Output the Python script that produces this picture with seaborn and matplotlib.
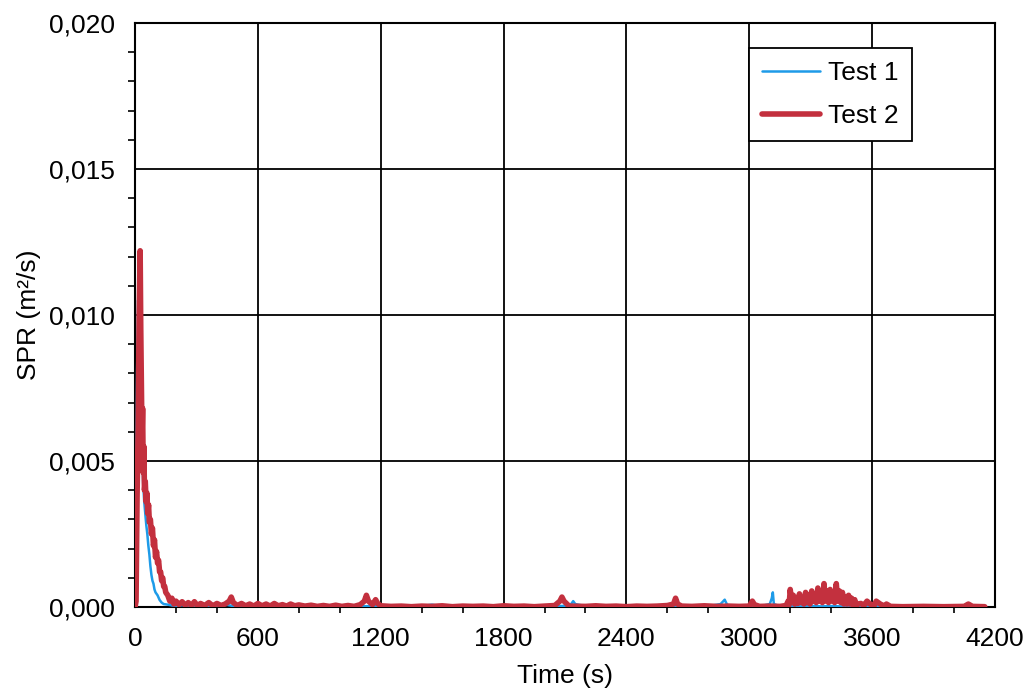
import numpy as np
import pandas as pd
import seaborn as sns
import matplotlib.pyplot as plt
from matplotlib.ticker import MultipleLocator, FuncFormatter

# Test 1 (blue) - time (s) / SPR (m2/s), 10 values per row
t_test1 = [0, 5, 10, 15, 20, 25, 30, 35, 40, 45,
           50, 55, 60, 65, 70, 75, 80, 85, 90, 95,
           100, 110, 120, 130, 140, 160, 180, 200, 240, 280,
           320, 360, 400, 440, 480, 520, 560, 600, 640, 680,
           720, 760, 800, 850, 900, 950, 1000, 1050, 1100, 1150,
           1200, 1250, 1300, 1350, 1400, 1450, 1500, 1550, 1600, 1650,
           1700, 1750, 1800, 1850, 1900, 1950, 2000, 2050, 2100, 2130,
           2140, 2150, 2200, 2250, 2300, 2350, 2400, 2450, 2500, 2550,
           2600, 2650, 2700, 2750, 2800, 2860, 2880, 2890, 2900, 2950,
           3000, 3050, 3100, 3110, 3115, 3120, 3150, 3200, 3250, 3300,
           3350, 3400, 3450, 3500, 3550, 3600, 3650, 3700, 3750, 3800,
           3850, 3900, 3950, 4000, 4060, 4070, 4080, 4100]
v_test1 = [0, 0.0030, 0.0080, 0.0105, 0.0098, 0.0080, 0.0065, 0.0052, 0.0042, 0.0036,
           0.0032, 0.0028, 0.0025, 0.0021, 0.0018, 0.0014, 0.0011, 0.0009, 0.0008, 0.0006,
           0.0005, 0.0004, 0.00024, 0.00015, 0.0001, 0.00008, 0.00005, 0.00004, 0.00006, 0.00003,
           0.00005, 0.00002, 0.00004, 0.00008, 0.00003, 0.00005, 0.00002, 0.00006, 0.00003, 0.00004,
           0.00002, 0.00005, 0.00003, 0.00004, 0.00002, 0.00005, 0.00003, 0.00004, 0.00002, 0.00003,
           0.00005, 0.00002, 0.00004, 0.00002, 0.00003, 0.00008, 0.00002, 0.00004, 0.00002, 0.00003,
           0.00002, 0.00004, 0.00003, 0.00002, 0.00004, 0.00002, 0.00003, 0.00002, 0.00004, 0.0001,
           0.0002, 0.0001, 0.00003, 0.00002, 0.00004, 0.00002, 0.00003, 0.00002, 0.00004, 0.00002,
           0.00003, 0.00002, 0.00004, 0.00002, 0.00003, 0.0001, 0.00025, 0.0001, 0.00003, 0.00002,
           0.00004, 0.00002, 0.0001, 0.0003, 0.0005, 0.0001, 0.00002, 0.00003, 0.00002, 0.00004,
           0.00002, 0.00003, 0.00002, 0.00004, 0.00002, 0.00003, 0.00002, 0.00001, 0.00002, 0.00001,
           0.00002, 0.00001, 0.00002, 0.00001, 0.00003, 0.0001, 0.00002, 0.00001]

# Test 2 (red)
t_test2 = [0, 5, 10, 15, 20, 25, 28, 31, 34, 37,
           40, 43, 46, 50, 54, 58, 62, 66, 70, 75,
           80, 85, 90, 95, 100, 105, 110, 115, 120, 125,
           130, 135, 140, 145, 150, 160, 170, 180, 190, 200,
           215, 230, 245, 260, 275, 290, 305, 320, 340, 360,
           380, 400, 420, 440, 460, 470, 480, 500, 520, 540,
           560, 580, 600, 620, 640, 660, 680, 700, 720, 740,
           760, 780, 800, 830, 860, 890, 920, 950, 980, 1010,
           1040, 1070, 1100, 1120, 1130, 1140, 1160, 1175, 1185, 1200,
           1250, 1300, 1350, 1400, 1450, 1500, 1550, 1600, 1650, 1700,
           1750, 1800, 1850, 1900, 1950, 2000, 2050, 2075, 2085, 2095,
           2120, 2200, 2250, 2300, 2350, 2400, 2450, 2500, 2550, 2600,
           2630, 2640, 2650, 2670, 2720, 2780, 2840, 2900, 2950, 3000,
           3015, 3025, 3050, 3100, 3150, 3180, 3190, 3195, 3200, 3207,
           3215, 3222, 3230, 3237, 3245, 3252, 3260, 3267, 3275, 3282,
           3290, 3297, 3305, 3312, 3320, 3327, 3335, 3342, 3350, 3357,
           3365, 3372, 3380, 3387, 3395, 3402, 3410, 3417, 3425, 3432,
           3440, 3447, 3455, 3462, 3470, 3477, 3485, 3492, 3500, 3507,
           3515, 3522, 3530, 3545, 3560, 3575, 3590, 3610, 3620, 3640,
           3660, 3670, 3690, 3750, 3850, 3950, 4050, 4070, 4090, 4150]
v_test2 = [0, 0.0002, 0.0038, 0.0060, 0.0100, 0.0122, 0.0095, 0.0075, 0.0058, 0.0068,
           0.0046, 0.0055, 0.0040, 0.0043, 0.0036, 0.0039, 0.0032, 0.0035, 0.0029, 0.0030,
           0.0025, 0.0027, 0.0021, 0.0023, 0.0017, 0.0019, 0.0015, 0.0016, 0.0012, 0.0012,
           0.0009, 0.0010, 0.0007, 0.0007, 0.0005, 0.0004, 0.0002, 0.0003, 0.0001, 0.0002,
           0.00008, 0.00018, 0.00006, 0.00015, 0.00005, 0.00018, 0.00004, 0.00012, 0.00005, 0.00015,
           0.00004, 0.00012, 0.00005, 0.0001, 0.0002, 0.00034, 0.00015, 0.00005, 0.00012, 0.00004,
           0.0001, 0.00003, 0.00012, 0.00004, 0.0001, 0.00003, 0.00012, 0.00004, 0.00008, 0.00003,
           0.0001, 0.00004, 0.00007, 0.00003, 0.00006, 0.00002, 0.00005, 0.00002, 0.00006, 0.00002,
           0.00005, 0.00002, 0.00008, 0.0002, 0.0004, 0.0002, 0.00008, 0.00025, 0.00012, 0.00004,
           0.00002, 0.00003, 0.00001, 0.00003, 0.00002, 0.00004, 0.00001, 0.00003, 0.00002, 0.00003,
           0.00001, 0.00004, 0.00002, 0.00003, 0.00001, 0.00003, 0.00005, 0.0002, 0.00034, 0.0002,
           0.00003, 0.00002, 0.00004, 0.00002, 0.00003, 0.00001, 0.00003, 0.00002, 0.00003, 0.00005,
           0.0001, 0.0003, 0.0001, 0.00003, 0.00002, 0.00004, 0.00002, 0.00003, 0.00002, 0.00003,
           0.0002, 0.00008, 0.00002, 0.00003, 0.00002, 0.00005, 0.0002, 0.00008, 0.0006, 0.0002,
           0.0004, 0.0001, 0.0003, 0.00012, 0.00045, 0.00015, 0.0003, 0.0001, 0.0005, 0.00015,
           0.0004, 0.0001, 0.00055, 0.0002, 0.00045, 0.00015, 0.00065, 0.0002, 0.0005, 0.00015,
           0.0008, 0.0002, 0.00055, 0.00015, 0.0006, 0.0002, 0.0005, 0.00015, 0.0008, 0.0002,
           0.00055, 0.00015, 0.0005, 0.0001, 0.00035, 0.0001, 0.0004, 0.0001, 0.0003, 0.00008,
           0.00025, 0.00005, 0.0001, 0.00012, 0.00005, 0.0002, 0.0001, 0.00005, 0.0002, 0.0001,
           0.00003, 0.0001, 0.00002, 0.00001, 0.00002, 0.00001, 0.00002, 0.0001, 0.00002, 0.00001]

sns.set_style("white")
plt.rcParams['font.family'] = ['Liberation Sans', 'DejaVu Sans']
plt.rcParams['text.color'] = 'black'
plt.rcParams['axes.labelcolor'] = 'black'
plt.rcParams['xtick.color'] = 'black'
plt.rcParams['ytick.color'] = 'black'

fig = plt.figure(figsize=(10.23, 6.91), dpi=100)
ax = fig.add_axes([0.132, 0.1216, 0.8406, 0.8451])

sns.lineplot(x=t_test1, y=v_test1, color='#1e9be8', lw=1.8, label='Test 1', ax=ax, zorder=3)
sns.lineplot(x=t_test2, y=v_test2, color='#c3303e', lw=4, label='Test 2', ax=ax, zorder=4)

ax.set_xlim(0, 4200)
ax.set_ylim(0, 0.020)
ax.xaxis.set_major_locator(MultipleLocator(600))
ax.xaxis.set_minor_locator(MultipleLocator(200))
ax.yaxis.set_major_locator(MultipleLocator(0.005))
ax.yaxis.set_minor_locator(MultipleLocator(0.001))
ax.yaxis.set_major_formatter(FuncFormatter(lambda v, p: f"{v:.3f}".replace('.', ',')))

ax.grid(True, which='major', color='black', lw=1.3)
for s in ax.spines.values():
    s.set_color('black')
    s.set_linewidth(1.5)

ax.tick_params(axis='y', which='major', direction='inout', length=9, width=1.3, labelsize=19, pad=10)
ax.tick_params(axis='y', which='minor', direction='out', length=5, width=1.2, left=True)
ax.tick_params(axis='x', which='major', direction='out', length=4.5, width=1.3, labelsize=19, pad=10)
ax.tick_params(axis='x', which='minor', direction='out', length=4, width=1.2, bottom=True)

ax.set_xlabel('Time (s)', fontsize=19, labelpad=9)
ax.set_ylabel('SPR (m²/s)', fontsize=19, labelpad=6)

leg = ax.legend(loc='upper right', bbox_to_anchor=(0.9035, 0.957), fontsize=19,
                fancybox=False, framealpha=1, edgecolor='black', handlelength=2.2,
                handletextpad=0.3, borderpad=0.5, labelspacing=0.7, borderaxespad=0)
leg.get_frame().set_linewidth(1.3)

plt.savefig('out.png', dpi=100)
